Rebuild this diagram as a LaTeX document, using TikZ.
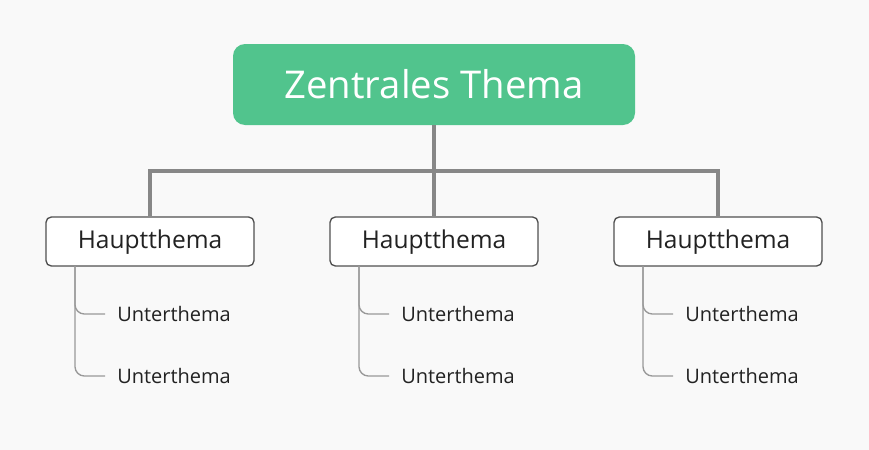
\documentclass[tikz,border=0pt]{standalone}
\usepackage{fontspec}
\setmainfont{Open Sans}
\definecolor{bg}{HTML}{F9F9F9}
\definecolor{rootgreen}{HTML}{51C48D}
\definecolor{mainline}{HTML}{878787}
\definecolor{subline}{HTML}{999999}
\definecolor{boxborder}{HTML}{505050}
\definecolor{txt}{HTML}{222222}
\begin{document}
\begin{tikzpicture}[x=0.75pt,y=-0.75pt,
  rootbox/.style={draw=none,fill=rootgreen,rounded corners=9pt,minimum width=301.5pt,minimum height=60.75pt,text=white,font=\fontsize{28.7}{34}\selectfont,inner sep=0pt},
  mainbox/.style={draw=boxborder,line width=1pt,fill=white,rounded corners=4pt,minimum width=156pt,minimum height=36.75pt,text=txt,font=\fontsize{18.4}{22}\selectfont,inner sep=0pt,text height=14pt,text depth=3.2pt},
  subtext/.style={anchor=west,inner sep=0pt,text=txt,font=\fontsize{15}{18}\selectfont},
  trunk/.style={draw=mainline,line width=2.5pt},
  twig/.style={draw=subline,line width=1pt,rounded corners=7pt}
]
\fill[bg] (0,0) rectangle (869,450);
\useasboundingbox (0,0) rectangle (869,450);

\node[rootbox] (root) at (434,84.5) {Zentrales Thema};

\node[mainbox] (h1) at (150,241.5) {Hauptthema};
\node[mainbox] (h2) at (434,241.5) {Hauptthema};
\node[mainbox] (h3) at (718,241.5) {Hauptthema};

\coordinate (bar) at (434,171);
\draw[trunk] (root.south) -- (bar);
\draw[trunk] (h1.north) |- (bar) -| (h3.north);
\draw[trunk] (bar) -- (h2.north);

\foreach \i/\x in {1/75,2/359,3/643}{
  \node[subtext] (s\i a) at (\x+42,314) {Unterthema};
  \node[subtext] (s\i b) at (\x+42,376) {Unterthema};
  \coordinate (t\i) at (\x,266);
  \draw[twig] (t\i) |- ([xshift=-9pt]s\i a.west);
  \draw[twig] (t\i) |- ([xshift=-9pt]s\i b.west);
}
\end{tikzpicture}
\end{document}
